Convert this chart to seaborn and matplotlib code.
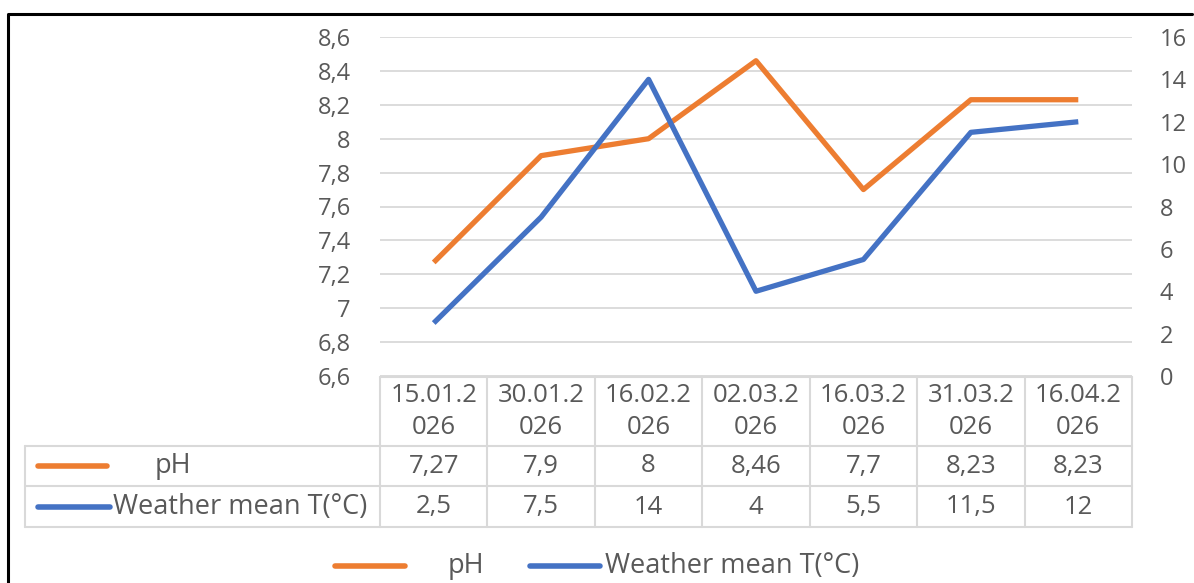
import matplotlib
matplotlib.use("Agg")
import matplotlib.pyplot as plt
import seaborn as sns
import pandas as pd
from matplotlib.lines import Line2D

# ---- data ----
dates = ["15.01.2026", "30.01.2026", "16.02.2026", "02.03.2026",
         "16.03.2026", "31.03.2026", "16.04.2026"]
ph = [7.27, 7.9, 8, 8.46, 7.7, 8.23, 8.23]
temp = [2.5, 7.5, 14, 4, 5.5, 11.5, 12]
ph_label_text = ["7,27", "7,9", "8", "8,46", "7,7", "8,23", "8,23"]
temp_label_text = ["2,5", "7,5", "14", "4", "5,5", "11,5", "12"]
ph_ticks = [6.6, 6.8, 7.0, 7.2, 7.4, 7.6, 7.8, 8.0, 8.2, 8.4, 8.6]
temp_ticks = [0, 2, 4, 6, 8, 10, 12, 14, 16]
series_names = ["pH", "Weather mean T(°C)"]

ORANGE = "#ED7D31"
BLUE = "#4472C4"
GRAY = "#595959"
GRID = "#D9D9D9"

W, H = 1194, 583
sns.set_theme(style="white")
plt.rcParams['font.family'] = ['Open Sans', 'DejaVu Sans']
FS = 18.5
LFS = 19.5
TFS = 17

fig = plt.figure(figsize=(W / 100, H / 100), dpi=100)


def fx(px):
    return px / W


def fy(py):
    return 1 - py / H


AX_L, AX_R, AX_T, AX_B = 380, 1132, 37, 376
ax = fig.add_axes([fx(AX_L), fy(AX_B), fx(AX_R) - fx(AX_L), fy(AX_T) - fy(AX_B)])
ax2 = ax.twinx()

df = pd.DataFrame({"pos": range(len(dates)), "pH": ph, "temp": temp})
sns.lineplot(data=df, x="pos", y="pH", ax=ax, color=ORANGE, linewidth=3.8,
             solid_capstyle="butt", solid_joinstyle="round")
sns.lineplot(data=df, x="pos", y="temp", ax=ax2, color=BLUE, linewidth=3.8,
             solid_capstyle="butt", solid_joinstyle="round")

ax.set_xlim(-0.5, len(dates) - 0.5)
ax.set_ylim(6.6, 8.6)
ax2.set_ylim(0, 16)
ax.set_yticks(ph_ticks)
ax.set_yticklabels([f"{v:g}".replace(".", ",") for v in ph_ticks])
ax2.set_yticks(temp_ticks)
ax2.set_yticklabels([str(v) for v in temp_ticks])
ax.set_xticks([])
for a in (ax, ax2):
    a.set_xlabel("")
    a.set_ylabel("")
    for s in a.spines.values():
        s.set_visible(False)
    a.tick_params(axis="y", length=0, labelsize=TFS, labelcolor=GRAY)
    a.patch.set_alpha(0)
ax.tick_params(axis="y", pad=21)
ax2.tick_params(axis="y", pad=20)
ax.yaxis.grid(True, color=GRID, linewidth=1.3)
ax.set_axisbelow(True)

# ---- data table ----
ncol = len(dates)
col_w = (AX_R - AX_L) / ncol
xs = [AX_L + i * col_w for i in range(ncol + 1)]
Y_HEAD_T, Y_HEAD_B, Y_R1_B, Y_R2_B = 377, 446, 486, 527
LBL_L = 25


def hline(x0, x1, y):
    fig.add_artist(Line2D([fx(x0), fx(x1)], [fy(y), fy(y)], transform=fig.transFigure,
                          color=GRID, linewidth=1.5))


def vline(x, y0, y1):
    fig.add_artist(Line2D([fx(x), fx(x)], [fy(y0), fy(y1)], transform=fig.transFigure,
                          color=GRID, linewidth=1.5))


hline(AX_L, AX_R, Y_HEAD_T)
hline(LBL_L, AX_R, Y_HEAD_B)
hline(LBL_L, AX_R, Y_R1_B)
hline(LBL_L, AX_R, Y_R2_B)
for x in xs:
    vline(x, Y_HEAD_T, Y_R2_B)
vline(LBL_L, Y_HEAD_B, Y_R2_B)

for i, d in enumerate(dates):
    cx = (xs[i] + xs[i + 1]) / 2
    fig.text(fx(cx), fy(396), d[:7], ha="center", va="center", fontsize=FS, color=GRAY)
    fig.text(fx(cx), fy(427), d[7:], ha="center", va="center", fontsize=FS, color=GRAY)
    fig.text(fx(cx), fy(466), ph_label_text[i], ha="center", va="center", fontsize=FS, color=GRAY)
    fig.text(fx(cx), fy(507), temp_label_text[i], ha="center", va="center", fontsize=FS, color=GRAY)

# row labels with keys
fig.add_artist(Line2D([fx(38), fx(107)], [fy(466), fy(466)], transform=fig.transFigure,
                      color=ORANGE, linewidth=4, solid_capstyle="round"))
fig.text(fx(155), fy(466), series_names[0], ha="left", va="center", fontsize=LFS, color=GRAY)
fig.add_artist(Line2D([fx(38), fx(110)], [fy(507), fy(507)], transform=fig.transFigure,
                      color=BLUE, linewidth=4, solid_capstyle="round"))
fig.text(fx(113), fy(507), series_names[1], ha="left", va="center", fontsize=LFS, color=GRAY)

# ---- legend ----
fig.add_artist(Line2D([fx(335), fx(405)], [fy(566), fy(566)], transform=fig.transFigure,
                      color=ORANGE, linewidth=4, solid_capstyle="round"))
fig.text(fx(448), fy(566), series_names[0], ha="left", va="center", fontsize=LFS, color=GRAY)
fig.add_artist(Line2D([fx(530), fx(600)], [fy(566), fy(566)], transform=fig.transFigure,
                      color=BLUE, linewidth=4, solid_capstyle="round"))
fig.text(fx(605), fy(566), series_names[1], ha="left", va="center", fontsize=LFS, color=GRAY)

# ---- outer frame (left & top) ----
fig.add_artist(Line2D([fx(8), fx(8), fx(1192)], [fy(H), fy(14), fy(14)],
                      transform=fig.transFigure, color="black", linewidth=2.2))

fig.savefig("out.png", dpi=100)
